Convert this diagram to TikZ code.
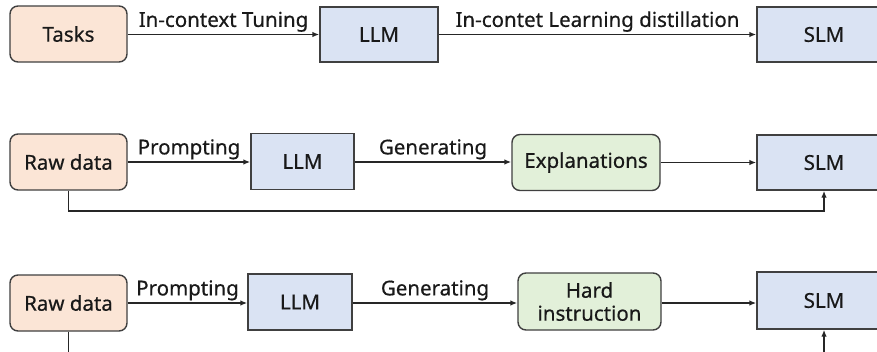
\documentclass[tikz,border=0pt]{standalone}
\usepackage{fontspec}
\setmainfont{Noto Sans}[FakeBold=0.5]
\usetikzlibrary{arrows.meta}
\definecolor{peach}{HTML}{FBE5D6}
\definecolor{paleblue}{HTML}{DAE3F3}
\definecolor{palegreen}{HTML}{E2F0D9}
\definecolor{edge}{HTML}{404040}
\tikzset{
  every node/.style={font=\fontsize{20.5}{23}\selectfont, text=black!90},
  srcbox/.style={draw=edge, line width=1.4pt, fill=peach, rounded corners=8pt,
    minimum width=117pt, minimum height=56pt, inner sep=0pt},
  modelbox/.style={draw=edge, line width=1.4pt, fill=paleblue,
    minimum height=55pt, inner sep=0pt},
  outbox/.style={draw=edge, line width=1.4pt, fill=palegreen, rounded corners=8pt,
    minimum height=56pt, inner sep=0pt, align=center},
  flow/.style={draw=black!85, line width=1.4pt, -{Latex[length=7pt,width=5.5pt]}},
  lbl/.style={above, inner sep=2pt, font=\fontsize{20.5}{23}\selectfont}
}
\begin{document}
\begin{tikzpicture}[x=1pt,y=-1pt]
\useasboundingbox (0,0) rectangle (877,351);
\clip (0,0) rectangle (877,351);
\fill[white] (0,0) rectangle (877,351);

% row 1: in-context learning distillation
\node[srcbox] (tasks) at (68.5,34) {Tasks};
\node[modelbox, minimum width=118pt] (llm1) at (379,34.5) {LLM};
\node[modelbox, minimum width=134pt] (slm1) at (824,34.5) {SLM};
\draw[flow] (tasks.east |- llm1) -- node[lbl] {In-context Tuning} (llm1.west);
\draw[flow] (llm1.east) -- node[lbl] {In-contet Learning distillation} (slm1.west);

% row 2: explanations
\node[srcbox] (raw2) at (68.5,162) {Raw data};
\node[modelbox, minimum width=103pt, minimum height=56pt] (llm2) at (302.5,161.5) {LLM};
\node[outbox, minimum width=148pt] (expl) at (586,162.5) {Explanations};
\node[modelbox, minimum width=134pt] (slm2) at (824,162.5) {SLM};
\coordinate (low2) at (0,211);
\draw[flow] (raw2.east) -- node[lbl] {Prompting} (raw2.east -| llm2.west);
\draw[flow] (llm2.east |- raw2) -- node[lbl] {Generating} (raw2 -| expl.west);
\draw[flow] (expl.east) -- (slm2.west);
\draw[flow] (raw2.south) -- (raw2.south |- low2) -| (slm2.south);

% row 3: hard instructions
\node[srcbox] (raw3) at (68.5,303) {Raw data};
\node[modelbox, minimum width=104pt, minimum height=56pt] (llm3) at (300,302) {LLM};
\node[outbox, minimum width=143pt, minimum height=57pt] (hard) at (589.5,301.5) {Hard\\[0pt]instruction};
\node[modelbox, minimum width=134pt, minimum height=57pt] (slm3) at (824,300.5) {SLM};
\coordinate (low3) at (0,372);
\draw[flow] (raw3.east) -- node[lbl] {Prompting} (raw3.east -| llm3.west);
\draw[flow] (llm3.east |- raw3) -- node[lbl] {Generating} (raw3 -| hard.west);
\draw[flow] (hard.east |- raw3) -- (raw3 -| slm3.west);
\draw[flow] (raw3.south) -- (raw3.south |- low3) -| (slm3.south);
\end{tikzpicture}
\end{document}
